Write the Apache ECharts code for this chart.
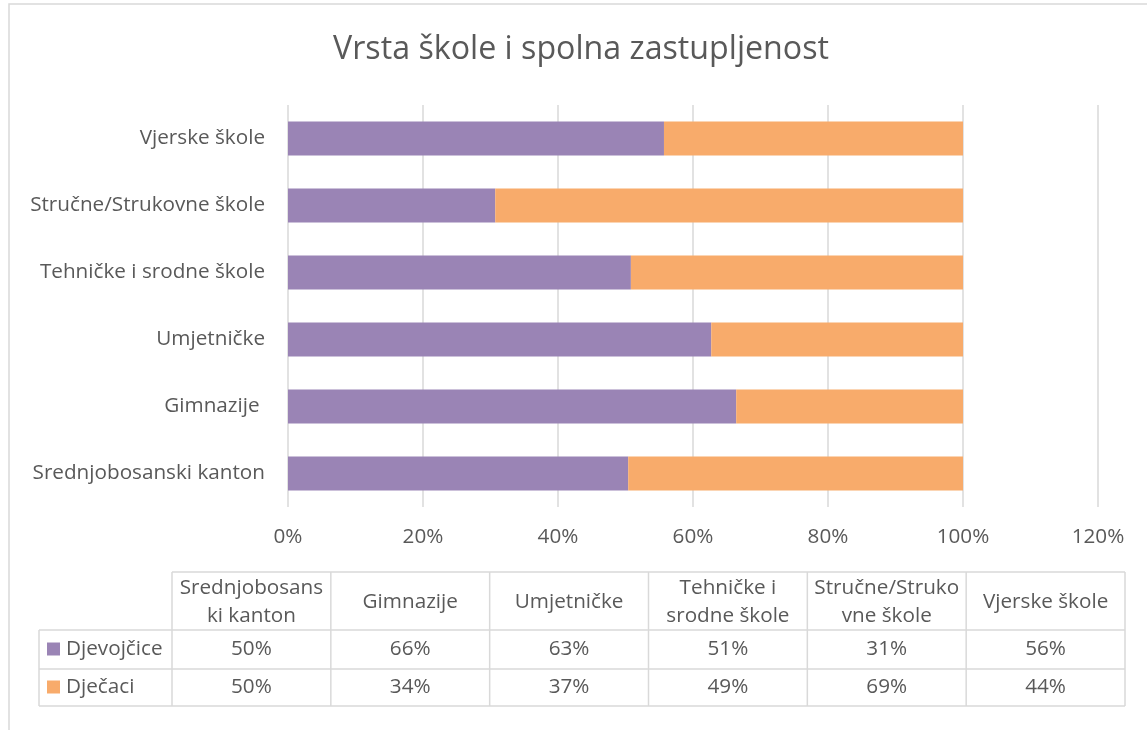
<!DOCTYPE html>
<html>
<head>
<meta charset="utf-8">
<script src="https://cdn.jsdelivr.net/npm/echarts@6/dist/echarts.min.js"></script>
<style>
html, body { margin: 0; padding: 0; background: #fff; }
#main { width: 1147px; height: 730px; }
</style>
</head>
<body>
<div id="main"></div>
<script>
// categories, bottom to top on the y axis
var categories = ['Srednjobosanski kanton', 'Gimnazije ', 'Umjetničke', 'Tehničke i srodne škole', 'Stručne/Strukovne škole', 'Vjerske škole']
// table header text, as wrapped in the data table
var headerLabels = ['Srednjobosans\nki kanton', 'Gimnazije', 'Umjetničke', 'Tehničke i\nsrodne škole', 'Stručne/Struko\nvne škole', 'Vjerske škole']
var seriesNames = ['Djevojčice', 'Dječaci']
var girls = [50.4, 66.4, 62.7, 50.8, 30.7, 55.7]
var boys = [49.6, 33.6, 37.3, 49.2, 69.3, 44.3]
var tickLabels = ['0%', '20%', '40%', '60%', '80%', '100%', '120%']

var colors = ['#9a84b5', '#f8ab6b']
var textColor = '#595959'
var lineColor = '#d9d9d9'
var font = '"Open Sans", Lato, sans-serif'
var fs = 20.7

var chart = echarts.init(document.getElementById('main'))

// data table drawn below the plot
function buildTable() {
  var els = []
  var x0 = 39, x1 = 172, colW = (1125 - 172) / 6
  var yTop = 572, yH = 630, yR1 = 669, yR2 = 706
  function line(xa, ya, xb, yb) {
    els.push({ type: 'line', shape: { x1: xa, y1: ya, x2: xb, y2: yb }, style: { stroke: lineColor, lineWidth: 1.5 }, silent: true })
  }
  function text(x, y, s, align) {
    els.push({ type: 'text', x: x, y: y, style: { text: s, fill: textColor, font: fs + 'px ' + font, align: align || 'center', verticalAlign: 'middle', lineHeight: 28 }, silent: true })
  }
  line(x1, yTop, 1125, yTop)
  line(x0, yH, 1125, yH)
  line(x0, yR1, 1125, yR1)
  line(x0, yR2, 1125, yR2)
  line(x0, yH, x0, yR2)
  for (var i = 0; i <= 6; i++) {
    line(x1 + i * colW, yTop, x1 + i * colW, yR2)
  }
  var rows = [girls, boys]
  var rowY = [(yH + yR1) / 2, (yR1 + yR2) / 2]
  for (var c = 0; c < 6; c++) {
    var cx = x1 + c * colW + colW / 2
    text(cx, (yTop + yH) / 2 + 1, headerLabels[c])
    for (var r = 0; r < 2; r++) {
      text(cx, rowY[r], Math.round(rows[r][c]) + '%')
    }
  }
  for (var r = 0; r < 2; r++) {
    els.push({ type: 'rect', shape: { x: 47, y: rowY[r] - 7, width: 13, height: 13 }, style: { fill: colors[r] }, silent: true })
    text(66, rowY[r], seriesNames[r], 'left')
  }
  return els
}

var graphics = [
  { type: 'rect', shape: { x: 9, y: 4, width: 1200, height: 800 }, style: { fill: 'none', stroke: lineColor, lineWidth: 1.5 }, silent: true, z: -1 },
  { type: 'text', x: 581, y: 50, style: { text: 'Vrsta škole i spolna zastupljenost', fill: textColor, font: '32.2px ' + font, align: 'center', verticalAlign: 'middle' }, silent: true }
].concat(buildTable())

chart.setOption({
  animation: false,
  textStyle: { fontFamily: font },
  grid: { left: 288, right: 49, top: 105, bottom: 223, containLabel: false },
  xAxis: {
    type: 'value',
    min: 0, max: 120, interval: 20,
    axisLine: { show: false },
    axisTick: { show: false },
    splitLine: { lineStyle: { color: lineColor, width: 1.5 } },
    axisLabel: {
      color: textColor, fontSize: fs, margin: 20,
      formatter: function (v) { return tickLabels[v / 20] }
    }
  },
  yAxis: {
    type: 'category',
    data: categories,
    axisLine: { show: false },
    axisTick: { show: false },
    axisLabel: { color: textColor, fontSize: fs, margin: 23 }
  },
  series: [
    { name: seriesNames[0], type: 'bar', stack: 'total', data: girls, barWidth: 34, itemStyle: { color: colors[0] } },
    { name: seriesNames[1], type: 'bar', stack: 'total', data: boys, barWidth: 34, itemStyle: { color: colors[1] } }
  ],
  graphic: graphics
})
</script>
</body>
</html>
